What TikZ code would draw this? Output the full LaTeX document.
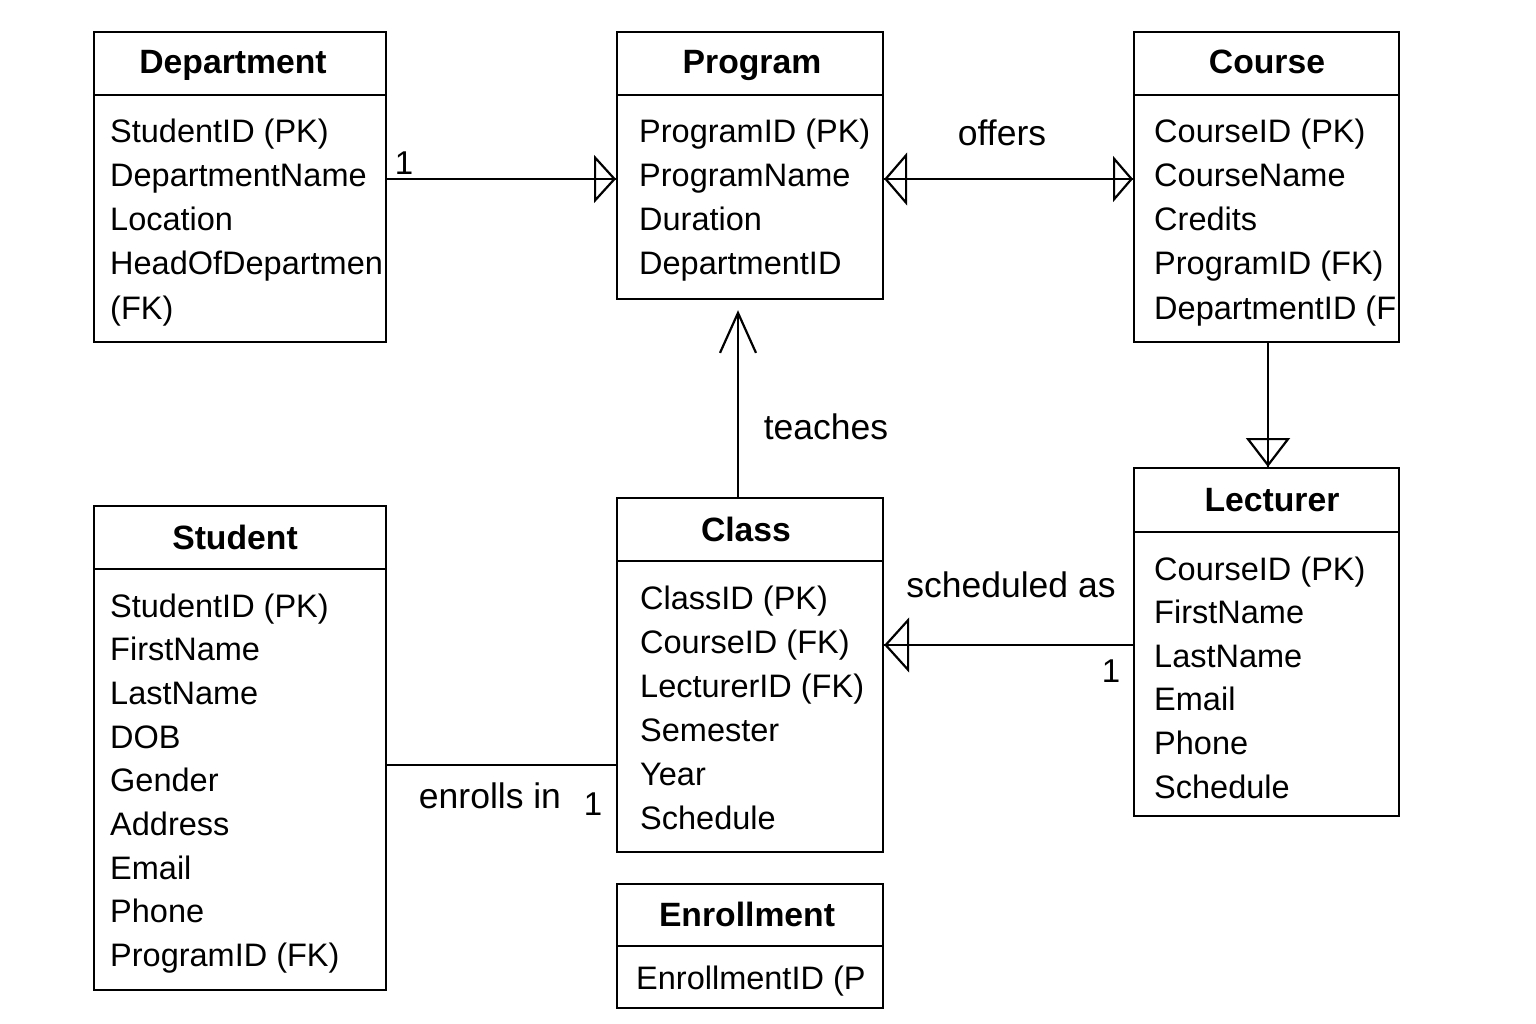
\documentclass[tikz,border=0pt]{standalone}
\usepackage{fontspec}
\setmainfont{Liberation Sans}
\usetikzlibrary{arrows.meta}
\begin{document}
\begin{tikzpicture}[x=1pt,y=-1pt,
  lw/.style={line width=2.2pt},
  entity/.style={draw, lw, rectangle, anchor=north west, inner sep=0pt},
  ttl/.style={font=\fontsize{33.7}{40}\selectfont\bfseries, anchor=base, inner sep=0pt},
  attr/.style={font=\fontsize{32.5}{40}\selectfont, anchor=base west, inner sep=0pt},
  lbl/.style={font=\fontsize{35.5}{40}\selectfont, anchor=base, inner sep=0pt},
  num/.style={font=\fontsize{33}{40}\selectfont, anchor=base, inner sep=0pt},
  conn/.style={lw}
]
\useasboundingbox[fill=white] (0,0) rectangle (1536,1024);

% Department
\node[entity, minimum width=292pt, minimum height=310pt] (dept) at (93,31) {};
\draw[lw] ([yshift=-64pt]dept.north west) -- ([yshift=-64pt]dept.north east);
\node[ttl] (deptT) at (233,74) {Department};
\foreach[count=\i from 0] \t in {StudentID (PK),DepartmentName,Location,HeadOfDepartmen,(FK)}
  \node[attr] (dept\i) at (110,143+44*\i) {\t};

% Program
\node[entity, minimum width=266pt, minimum height=267pt] (prog) at (616,31) {};
\draw[lw] ([yshift=-64pt]prog.north west) -- ([yshift=-64pt]prog.north east);
\node[ttl] (progT) at (752,74) {Program};
\foreach[count=\i from 0] \t in {ProgramID (PK),ProgramName,Duration,DepartmentID}
  \node[attr] (prog\i) at (639,143+44*\i) {\t};

% Course
\node[entity, minimum width=265pt, minimum height=310pt] (course) at (1133,31) {};
\draw[lw] ([yshift=-64pt]course.north west) -- ([yshift=-64pt]course.north east);
\node[ttl] (courseT) at (1267,74) {Course};
\foreach[count=\i from 0] \t in {CourseID (PK),CourseName,Credits,ProgramID (FK),DepartmentID (F}
  \node[attr] (course\i) at (1154,143+44*\i) {\t};

% Lecturer
\node[entity, minimum width=265pt, minimum height=348pt] (lect) at (1133,467) {};
\draw[lw] ([yshift=-65pt]lect.north west) -- ([yshift=-65pt]lect.north east);
\node[ttl] (lectT) at (1272,511) {Lecturer};
\foreach[count=\i from 0] \t in {CourseID (PK),FirstName,LastName,Email,Phone,Schedule}
  \node[attr] (lect\i) at (1154,580+43.6*\i) {\t};

% Student
\node[entity, minimum width=292pt, minimum height=484pt] (stud) at (93,505) {};
\draw[lw] ([yshift=-64pt]stud.north west) -- ([yshift=-64pt]stud.north east);
\node[ttl] (studT) at (235,549) {Student};
\foreach[count=\i from 0] \t in {StudentID (PK),FirstName,LastName,DOB,Gender,Address,Email,Phone,ProgramID (FK)}
  \node[attr] (stud\i) at (110,617+43.7*\i) {\t};

% Class
\node[entity, minimum width=266pt, minimum height=354pt] (class) at (616,497) {};
\draw[lw] ([yshift=-64pt]class.north west) -- ([yshift=-64pt]class.north east);
\node[ttl] (classT) at (746,541) {Class};
\foreach[count=\i from 0] \t in {ClassID (PK),CourseID (FK),LecturerID (FK),Semester,Year,Schedule}
  \node[attr] (class\i) at (640,609+44*\i) {\t};

% Enrollment
\node[entity, minimum width=266pt, minimum height=124pt] (enrol) at (616,883) {};
\draw[lw] ([yshift=-63pt]enrol.north west) -- ([yshift=-63pt]enrol.north east);
\node[ttl] (enrolT) at (747,926) {Enrollment};
\node[attr] (enrol0) at (636,989) {EnrollmentID (P};

% helper coordinates
\coordinate (yA) at (0,179);
\coordinate (xC) at (1268,0);
\coordinate (xT) at (738,0);
\coordinate (yL) at (0,645);
\coordinate (yS) at (0,765);

% Department -> Program
\draw[conn] (dept.east |- yA) -- (prog.west |- yA);
\draw[conn,-{Triangle[open,length=22pt,width=48pt]}] (dept.east |- yA) -- (prog.west |- yA);
% Program <-> Course
\draw[conn] (prog.east |- yA) -- (course.west |- yA);
\draw[conn,{Triangle[open,length=23pt,width=53pt]}-{Triangle[open,length=20pt,width=46pt]}] (prog.east |- yA) -- (course.west |- yA);
% Course -> Lecturer
\draw[conn] (course.south -| xC) -- (lect.north -| xC);
\draw[conn,-{Triangle[open,length=29pt,width=44pt]}] (course.south -| xC) -- (lect.north -| xC);
% Class -> Program
\draw[conn,-{Straight Barb[length=40pt,width=36pt]},shorten >=10pt] (class.north -| xT) -- (prog.south -| xT);
% Lecturer -> Class
\draw[conn] (lect.west |- yL) -- (class.east |- yL);
\draw[conn,-{Triangle[open,length=25pt,width=55pt]}] (lect.west |- yL) -- (class.east |- yL);
% Student -- Class
\draw[conn] (stud.east |- yS) -- (class.west |- yS);

% labels
\node[num] (l1) at (404,175) {1};
\node[lbl] (offers) at (1002,146) {offers};
\node[lbl] (teaches) at (826,439) {teaches};
\node[lbl] (sched) at (1011,597) {scheduled as};
\node[num] (l2) at (1111,682) {1};
\node[lbl] (enr) at (490,808) {enrolls in};
\node[num] (l3) at (593,815) {1};
\end{tikzpicture}
\end{document}
